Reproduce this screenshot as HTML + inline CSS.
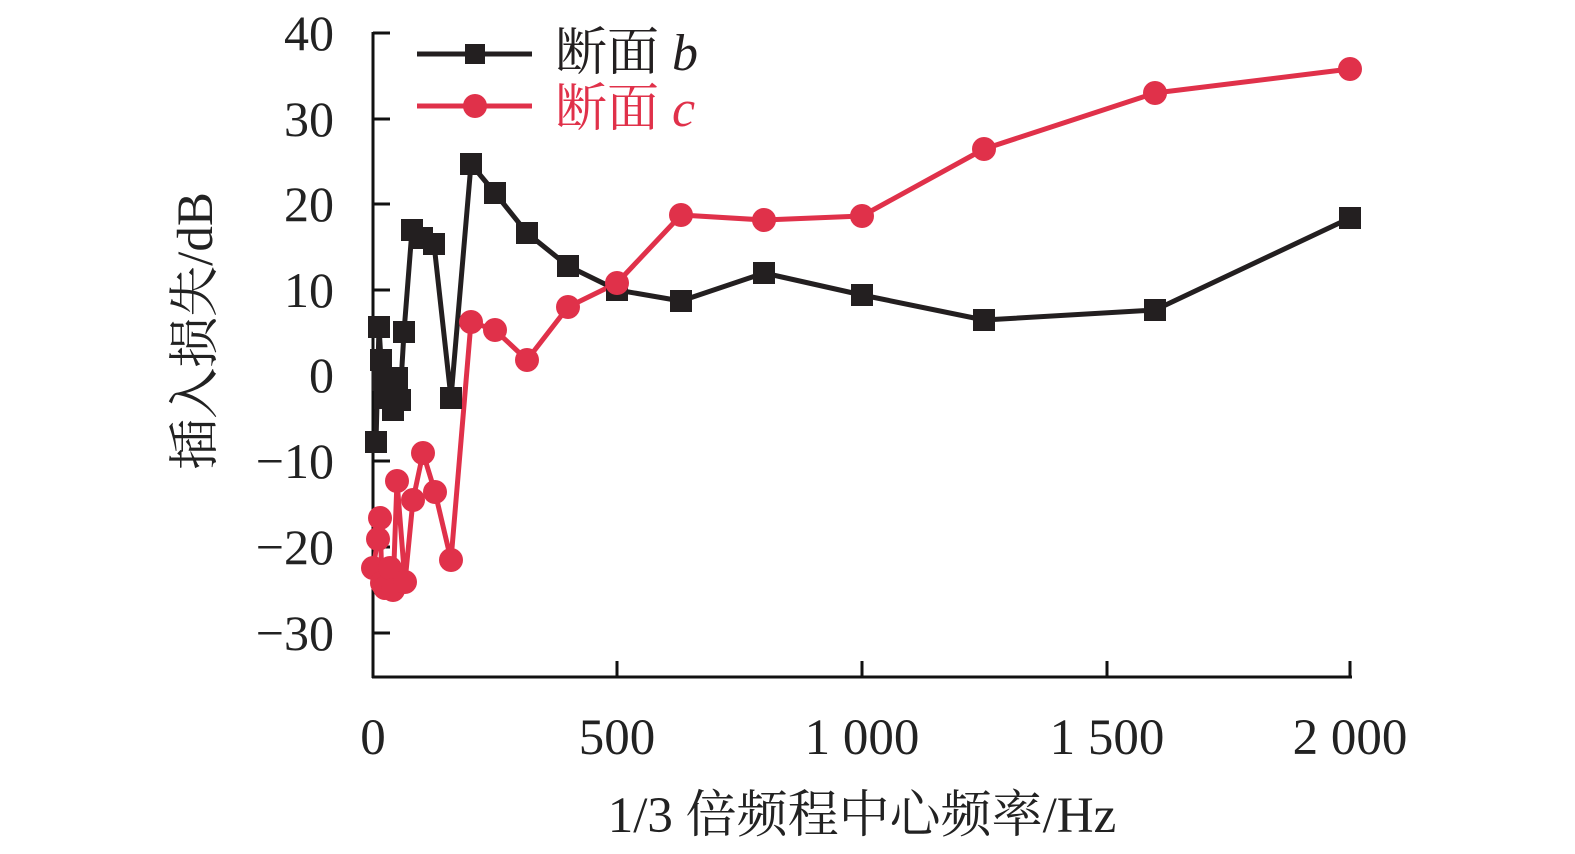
<!DOCTYPE html>
<html><head><meta charset="utf-8"><style>
html,body{margin:0;padding:0;background:#fff}
svg{display:block}
text{font-family:"Liberation Serif","Noto Serif CJK SC",serif}
</style></head><body>
<svg width="1575" height="854" viewBox="0 0 1575 854" xmlns="http://www.w3.org/2000/svg">
<g stroke="#111" stroke-width="3" fill="none">
<line x1="373" y1="32" x2="373" y2="678"/>
<line x1="372" y1="677" x2="1352" y2="677"/>
<line x1="373" y1="33" x2="390" y2="33"/>
<line x1="373" y1="119" x2="390" y2="119"/>
<line x1="373" y1="204" x2="390" y2="204"/>
<line x1="373" y1="290" x2="390" y2="290"/>
<line x1="373" y1="375" x2="390" y2="375"/>
<line x1="373" y1="461" x2="390" y2="461"/>
<line x1="373" y1="547" x2="390" y2="547"/>
<line x1="373" y1="633" x2="390" y2="633"/>
<line x1="617" y1="677" x2="617" y2="661"/>
<line x1="862" y1="677" x2="862" y2="661"/>
<line x1="1107" y1="677" x2="1107" y2="661"/>
<line x1="1350" y1="677" x2="1350" y2="661"/>
</g>
<g font-size="50" fill="#222" text-anchor="end">
<text x="334" y="50">40</text>
<text x="334" y="136">30</text>
<text x="334" y="221">20</text>
<text x="334" y="307">10</text>
<text x="334" y="392">0</text>
<text x="334" y="478">−10</text>
<text x="334" y="564">−20</text>
<text x="334" y="650">−30</text>
</g>
<g font-size="51" fill="#222" text-anchor="middle">
<text x="373" y="754">0</text>
<text x="617" y="754">500</text>
<text x="862" y="754">1 000</text>
<text x="1107" y="754">1 500</text>
<text x="1350" y="754">2 000</text>
<text x="862" y="832">1/3 倍频程中心频率/Hz</text>
<text transform="translate(212,331) rotate(-90)">插入损失/dB</text>
</g>
<g fill="none" stroke-width="5" stroke-linejoin="round">
<polyline stroke="#231f20" points="376,442 379,327 381,360 383,380 385,398 388,395 393,410 397,378 400,400 404,332 412,230 422,238 434,244 451,398 471,164 495,193 527,233 568,266 617,290 681,301 764,273 862,295 984,320 1155,310 1350,218"/>
<polyline stroke="#e0314a" points="373,568 378,539 380,518 382,583 385,588 390,568 393,590 397,481 405,582 413,500 423,453 435,492 451,560 471,322 495,330 527,360 568,307 617,283 681,215 764,220 862,216 984,149 1155,93 1350,69"/>
<line stroke="#231f20" x1="417" y1="54" x2="532" y2="54"/>
<line stroke="#e0314a" x1="417" y1="106" x2="532" y2="106"/>
</g>
<g fill="#231f20">
<rect x="465" y="44" width="20" height="20"/>
<g transform="translate(-11,-11)">
<rect x="376" y="442" width="22" height="22"/><rect x="379" y="327" width="22" height="22"/><rect x="381" y="360" width="22" height="22"/><rect x="383" y="380" width="22" height="22"/><rect x="385" y="398" width="22" height="22"/><rect x="388" y="395" width="22" height="22"/><rect x="393" y="410" width="22" height="22"/><rect x="397" y="378" width="22" height="22"/><rect x="400" y="400" width="22" height="22"/><rect x="404" y="332" width="22" height="22"/><rect x="412" y="230" width="22" height="22"/><rect x="422" y="238" width="22" height="22"/><rect x="434" y="244" width="22" height="22"/><rect x="451" y="398" width="22" height="22"/><rect x="471" y="164" width="22" height="22"/><rect x="495" y="193" width="22" height="22"/><rect x="527" y="233" width="22" height="22"/><rect x="568" y="266" width="22" height="22"/><rect x="617" y="290" width="22" height="22"/><rect x="681" y="301" width="22" height="22"/><rect x="764" y="273" width="22" height="22"/><rect x="862" y="295" width="22" height="22"/><rect x="984" y="320" width="22" height="22"/><rect x="1155" y="310" width="22" height="22"/><rect x="1350" y="218" width="22" height="22"/>
</g></g>
<g fill="#e0314a">
<circle cx="475" cy="106" r="12"/>
<circle cx="373" cy="568" r="12"/><circle cx="378" cy="539" r="12"/><circle cx="380" cy="518" r="12"/><circle cx="382" cy="583" r="12"/><circle cx="385" cy="588" r="12"/><circle cx="390" cy="568" r="12"/><circle cx="393" cy="590" r="12"/><circle cx="397" cy="481" r="12"/><circle cx="405" cy="582" r="12"/><circle cx="413" cy="500" r="12"/><circle cx="423" cy="453" r="12"/><circle cx="435" cy="492" r="12"/><circle cx="451" cy="560" r="12"/><circle cx="471" cy="322" r="12"/><circle cx="495" cy="330" r="12"/><circle cx="527" cy="360" r="12"/><circle cx="568" cy="307" r="12"/><circle cx="617" cy="283" r="12"/><circle cx="681" cy="215" r="12"/><circle cx="764" cy="220" r="12"/><circle cx="862" cy="216" r="12"/><circle cx="984" cy="149" r="12"/><circle cx="1155" cy="93" r="12"/><circle cx="1350" cy="69" r="12"/>
</g>
<text x="555" y="70" font-size="52" fill="#231f20">断面 <tspan font-style="italic">b</tspan></text>
<text x="555" y="126" font-size="52" fill="#e0314a">断面 <tspan font-style="italic">c</tspan></text>
</svg>
</body></html>
